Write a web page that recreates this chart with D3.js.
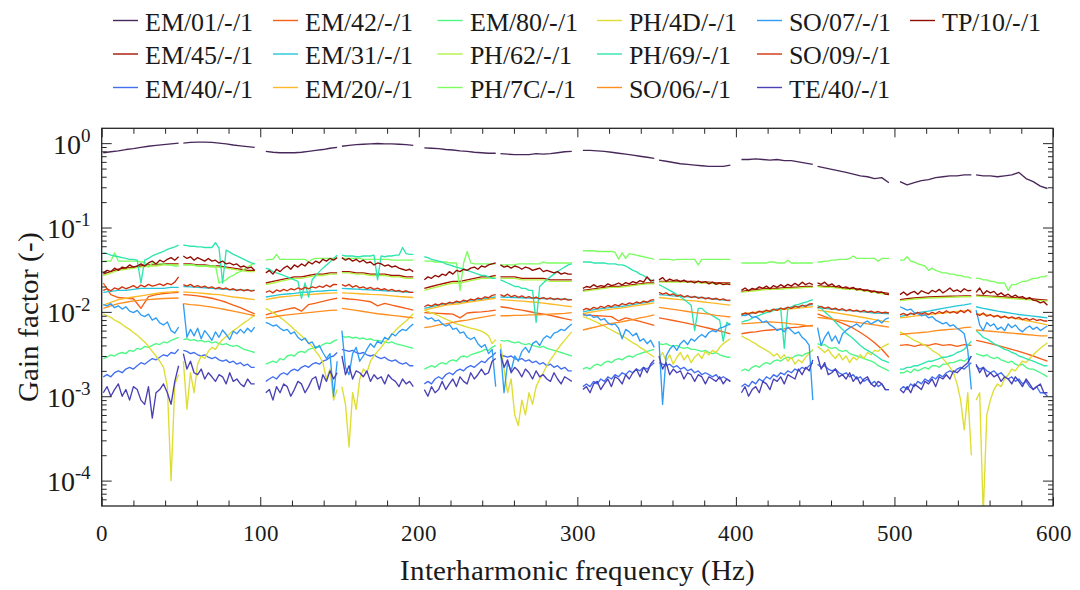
<!DOCTYPE html>
<html><head><meta charset="utf-8">
<script src="https://cdn.jsdelivr.net/npm/d3@7"></script>
<style>
@font-face{font-family:"RefSerif";src:local("Liberation Serif"),local("LiberationSerif"),local("LiberationSerif-Regular"),local("Tinos"),local("Tinos-Regular"),local("DejaVu Serif"),local("DejaVuSerif"),local("Times New Roman"),local("TimesNewRomanPSMT"),local("Nimbus Roman"),local("NimbusRoman-Regular"),local("FreeSerif"),local("Noto Serif"),local("NotoSerif-Regular");}
body{margin:0;background:#fff}
svg{display:block}
svg text{fill:#1a1a1a}
</style>
</head><body>
<svg id="c" width="1080" height="590"></svg>
<script>
// ---------------- DATA ----------------
const freqHz = [
 [1,5.75,10.5,15.25,20,24.75,29.5,34.25,39,43.75,48.5],
 [51.5,56,60.5,65,69.5,74,78.5,83,87.5,92,96.5],
 [103.5,108,112.5,117,121.5,126,130.5,135,139.5,144,148.5],
 [151.5,156,160.5,165,169.5,174,178.5,183,187.5,192,196.5],
 [203.5,208,212.5,217,221.5,226,230.5,235,239.5,244,248.5],
 [251.5,256,260.5,265,269.5,274,278.5,283,287.5,292,296.5],
 [303.5,308,312.5,317,321.5,326,330.5,335,339.5,344,348.5],
 [351.5,356,360.5,365,369.5,374,378.5,383,387.5,392,396.5],
 [403.5,408,412.5,417,421.5,426,430.5,435,439.5,444,448.5],
 [451.5,456,460.5,465,469.5,474,478.5,483,487.5,492,496.5],
 [503.5,508,512.5,517,521.5,526,530.5,535,539.5,544,548.5],
 [551.5,556,560.5,565,569.5,574,578.5,583,587.5,592,596.5]
];
const freqHzFine = [
 [1,3.4,5.75,8.1,10.5,12.9,15.25,17.6,20,22.4,24.75,27.1,29.5,31.9,34.25,36.6,39,41.4,43.75,46.1,48.5],
 [51.5,53.75,56,58.25,60.5,62.75,65,67.25,69.5,71.75,74,76.25,78.5,80.75,83,85.25,87.5,89.75,92,94.25,96.5],
 [103.5,105.75,108,110.25,112.5,114.75,117,119.25,121.5,123.75,126,128.25,130.5,132.75,135,137.25,139.5,141.75,144,146.25,148.5],
 [151.5,153.75,156,158.25,160.5,162.75,165,167.25,169.5,171.75,174,176.25,178.5,180.75,183,185.25,187.5,189.75,192,194.25,196.5],
 [203.5,205.75,208,210.25,212.5,214.75,217,219.25,221.5,223.75,226,228.25,230.5,232.75,235,237.25,239.5,241.75,244,246.25,248.5],
 [251.5,253.75,256,258.25,260.5,262.75,265,267.25,269.5,271.75,274,276.25,278.5,280.75,283,285.25,287.5,289.75,292,294.25,296.5],
 [303.5,305.75,308,310.25,312.5,314.75,317,319.25,321.5,323.75,326,328.25,330.5,332.75,335,337.25,339.5,341.75,344,346.25,348.5],
 [351.5,353.75,356,358.25,360.5,362.75,365,367.25,369.5,371.75,374,376.25,378.5,380.75,383,385.25,387.5,389.75,392,394.25,396.5],
 [403.5,405.75,408,410.25,412.5,414.75,417,419.25,421.5,423.75,426,428.25,430.5,432.75,435,437.25,439.5,441.75,444,446.25,448.5],
 [451.5,453.75,456,458.25,460.5,462.75,465,467.25,469.5,471.75,474,476.25,478.5,480.75,483,485.25,487.5,489.75,492,494.25,496.5],
 [503.5,505.75,508,510.25,512.5,514.75,517,519.25,521.5,523.75,526,528.25,530.5,532.75,535,537.25,539.5,541.75,544,546.25,548.5],
 [551.5,553.75,556,558.25,560.5,562.75,565,567.25,569.5,571.75,574,576.25,578.5,580.75,583,585.25,587.5,589.75,592,594.25,596.5]
];

const gEM01 = [
 [.77,.79,.81,.84,.86,.89,.92,.94,.96,.98,1.0],
 [1.0,1.02,1.03,1.03,1.02,1.0,.98,.95,.93,.91,.89],
 [.80,.78,.77,.77,.77,.78,.80,.82,.84,.87,.89],
 [.92,.94,.96,.97,.98,.99,.98,.98,.97,.96,.94],
 [.88,.87,.86,.84,.83,.81,.80,.78,.77,.76,.76],
 [.75,.74,.73,.73,.73,.75,.74,.75,.77,.79,.80],
 [.82,.82,.81,.80,.78,.76,.74,.72,.70,.68,.66],
 [.63,.61,.59,.57,.56,.55,.54,.53,.53,.53,.55],
 [.64,.64,.65,.64,.63,.64,.62,.62,.60,.58,.56],
 [.53,.51,.49,.47,.45,.43,.41,.40,.38,.39,.34],
 [.35,.32,.34,.36,.37,.39,.40,.41,.41,.42,.42],
 [.42,.41,.41,.40,.41,.42,.45,.38,.35,.31,.29]
];
const gEM45 = [
 [.028,.030,.032,.033,.034,.035,.036,.036,.037,.037,.037],
 [.037,.037,.036,.036,.035,.035,.034,.033,.032,.031,.031],
 [.022,.023,.024,.025,.026,.026,.027,.028,.028,.029,.029],
 [.030,.030,.029,.029,.028,.028,.028,.027,.027,.026,.026],
 [.019,.020,.021,.022,.023,.023,.024,.025,.026,.026,.027],
 [.026,.026,.026,.025,.025,.025,.025,.024,.024,.024,.024],
 [.018,.0185,.019,.0195,.020,.020,.0205,.021,.0215,.022,.022],
 [.023,.023,.023,.023,.023,.023,.0225,.0225,.022,.022,.022],
 [.0175,.018,.0183,.0187,.019,.019,.0193,.0195,.0197,.020,.020],
 [.0205,.020,.020,.0195,.019,.019,.0185,.018,.0175,.017,.0165],
 [.014,.0143,.0146,.0148,.015,.0151,.0152,.0153,.0154,.0155,.0155],
 [.0158,.0156,.0154,.0152,.015,.0148,.0146,.0144,.0142,.014,.0138]
];
const gEM40 = [
 [.0017,.0018,.0017,.0019,.0020,.0019,.0021,.0022,.0021,.0023,.0025,.0024,.0026,.0028,.0027,.0029,.0031,.0030,.0033,.0032,.0036],
 [.0035,.0034,.0032,.0033,.0031,.0030,.0031,.0029,.0028,.0029,.0027,.0026,.0027,.0025,.0026,.0024,.0025,.0023,.0024,.0022,.0022],
 [.0015,.0016,.0017,.0016,.0018,.0019,.0018,.0020,.0021,.0020,.0022,.0023,.0022,.0024,.0025,.0024,.0026,.0027,.0029,.0030,.0033],
 [.0036,.0035,.0034,.0035,.0033,.0032,.0033,.0031,.0030,.0031,.0029,.0028,.0029,.0027,.0026,.0027,.0025,.0024,.0025,.0023,.0023],
 [.0014,.0015,.0014,.0016,.0017,.0016,.0018,.0019,.0018,.0020,.0021,.0020,.0022,.0023,.0022,.0024,.0026,.0025,.0028,.0030,.0033],
 [.0031,.0030,.0029,.0030,.0028,.0027,.0028,.0026,.0027,.0025,.0026,.0024,.0025,.0023,.0024,.0022,.0023,.0021,.0022,.0020,.0020],
 [.0013,.0014,.0013,.0015,.0014,.0016,.0015,.0017,.0016,.0018,.0017,.0019,.0018,.0020,.0019,.0021,.0020,.0022,.0021,.0023,.0025],
 [.0025,.0024,.0023,.0024,.0022,.0023,.0021,.0022,.0020,.0021,.0019,.0020,.0018,.0019,.0018,.0017,.0018,.0016,.0017,.0016,.0015],
 [.0013,.0014,.0013,.0015,.0014,.0016,.0015,.0017,.0016,.0018,.0017,.0019,.0018,.0020,.0019,.0021,.0020,.0022,.0021,.0023,.0025],
 [.0024,.0022,.0023,.0021,.0020,.0021,.0019,.0018,.0019,.0017,.0018,.0016,.0017,.0015,.0016,.0014,.0015,.0013,.0014,.0012,.0012],
 [.0012,.0013,.0012,.0014,.0013,.0015,.0014,.0016,.0015,.0017,.0016,.0018,.0017,.0019,.0020,.0019,.0021,.0022,.0021,.0023,.0025],
 [.0023,.0021,.0022,.0020,.0019,.0020,.0018,.0019,.0017,.0016,.0017,.0015,.0016,.0014,.0015,.0013,.0012,.0013,.0011,.0011,.0010]
];
const gEM42 = [
 [.022,.016,.0148,.0145,.0143,.011,.0152,.016,.0165,.0168,.017],
 [.016,.0158,.0155,.015,.0145,.0138,.013,.012,.0112,.0103,.0095],
 [.0092,.0098,.0103,.0108,.0112,.0102,.0122,.0127,.0133,.014,.0145],
 [.0145,.0142,.014,.0136,.0132,.0118,.0126,.012,.0115,.011,.0105],
 [.0098,.0097,.0096,.0095,.0094,.0085,.0097,.0099,.010,.0102,.0105],
 [.0115,.0112,.0108,.0105,.0101,.0097,.0094,.0091,.0087,.0083,.008],
 [.0092,.0091,.009,.0089,.0088,.0078,.0085,.0081,.0077,.0073,.0069],
 [.0085,.0082,.0079,.0076,.0073,.007,.0067,.0064,.0061,.0058,.0055],
 [.0055,.0057,.0058,.006,.0061,.0062,.0063,.0065,.0066,.0068,.0069],
 [.0095,.0088,.0082,.0076,.007,.0064,.0057,.005,.0043,.0036,.0029],
 [.004,.0041,.0039,.0041,.004,.0042,.004,.0041,.0039,.0041,.004],
 [.0046,.0044,.0042,.004,.0038,.0036,.0034,.0032,.003,.0028,.0026]
];
const gEM31 = [
 [.017,.0175,.018,.018,.0185,.019,.019,.019,.019,.0195,.0195],
 [.020,.0198,.0195,.0193,.019,.0188,.0185,.0183,.0182,.018,.018],
 [.015,.0155,.016,.0163,.0166,.017,.0172,.0175,.0177,.018,.018],
 [.019,.0188,.0186,.0184,.0182,.018,.0178,.0176,.0174,.0172,.017],
 [.011,.0115,.012,.0125,.0128,.013,.0135,.0138,.0142,.0146,.015],
 [.015,.0149,.0148,.0147,.0146,.0145,.0144,.0143,.0142,.0141,.014],
 [.010,.0104,.0108,.011,.0113,.0115,.0118,.0122,.0126,.013,.0135],
 [.016,.0158,.0155,.0153,.0151,.015,.0147,.0144,.0141,.0138,.0135],
 [.009,.0094,.0098,.0101,.0104,.0108,.011,.0113,.0116,.0119,.0122],
 [.0112,.011,.0108,.0106,.0104,.0103,.0101,.0099,.0097,.0096,.0095],
 [.0088,.0092,.0096,.0099,.0102,.0106,.011,.0114,.0118,.0121,.0125],
 [.0115,.011,.0106,.0102,.0099,.0096,.0093,.0091,.0089,.0087,.0085]
];
const gEM20 = [
 [.012,.013,.014,.0145,.015,.0155,.016,.0165,.017,.0172,.0175],
 [.0172,.017,.0168,.0165,.0162,.016,.0155,.015,.0147,.0143,.014],
 [.014,.0145,.015,.0153,.0156,.0158,.016,.0163,.0165,.0167,.0168],
 [.0168,.0167,.0165,.0163,.0161,.016,.0158,.0155,.0152,.015,.0148],
 [.0105,.011,.0115,.012,.0123,.0125,.013,.0133,.0137,.0141,.0145],
 [.014,.0138,.0136,.0134,.0132,.013,.0127,.0124,.0121,.0118,.0115],
 [.0095,.0099,.0102,.0105,.0108,.011,.0113,.0117,.012,.0124,.0128],
 [.0148,.0145,.0142,.014,.0137,.0135,.0132,.0129,.0126,.0123,.012],
 [.0095,.0097,.0099,.0101,.0103,.0105,.0107,.0109,.0111,.0113,.0115],
 [.0105,.0102,.0099,.0096,.0093,.009,.0087,.0084,.0081,.0078,.0076],
 [.0085,.0087,.0089,.0091,.0093,.0095,.0097,.0099,.0101,.0103,.0105],
 [.0095,.0093,.0091,.0089,.0087,.0085,.0082,.0079,.0076,.0073,.007]
];
const gEM80 = [
 [.0028,.0029,.0031,.003,.0032,.0033,.0032,.0035,.0034,.0037,.0036,.0039,.0038,.004,.0042,.0041,.0044,.0043,.0046,.0048,.005],
 [.0047,.0048,.0046,.0047,.0045,.0046,.0044,.0045,.0043,.0044,.0042,.0041,.0042,.004,.0039,.004,.0038,.0036,.0035,.0034,.0033],
 [.0024,.0025,.0026,.0025,.0028,.0027,.003,.0031,.003,.0033,.0034,.0033,.0036,.0037,.0039,.0038,.0041,.0043,.0042,.0045,.0047],
 [.0052,.005,.0051,.0049,.005,.0048,.0049,.0047,.0048,.0046,.0046,.0045,.0044,.0043,.0044,.0042,.0041,.004,.0039,.0038,.0037],
 [.0021,.0022,.0023,.0022,.0024,.0025,.0024,.0026,.0027,.0026,.0029,.003,.0029,.0031,.0032,.0033,.0034,.0036,.0035,.0038,.004],
 [.0046,.0045,.0046,.0044,.0043,.0044,.0042,.0041,.0042,.004,.0039,.0038,.0039,.0037,.0036,.0035,.0034,.0033,.0032,.0031,.003],
 [.0021,.0022,.0021,.0023,.0024,.0023,.0025,.0026,.0025,.0027,.0028,.0027,.0029,.003,.0029,.0031,.0032,.0033,.0034,.0035,.0036],
 [.0042,.0041,.0042,.004,.0039,.004,.0038,.0037,.0038,.0036,.0036,.0035,.0034,.0035,.0033,.0032,.0033,.0031,.003,.0029,.0029],
 [.002,.0021,.002,.0022,.0023,.0022,.0024,.0025,.0024,.0026,.0027,.0026,.0028,.0029,.0028,.003,.0031,.003,.0032,.0033,.0035],
 [.0042,.004,.0041,.0038,.0037,.0038,.0035,.0034,.0035,.0032,.0031,.003,.0029,.0028,.0027,.0026,.0025,.0023,.0022,.0021,.002],
 [.0019,.0019,.002,.0019,.0021,.002,.0021,.0022,.0021,.0023,.0023,.0022,.0024,.0024,.0025,.0025,.0026,.0027,.0026,.0028,.003],
 [.0032,.0031,.003,.0031,.0029,.0028,.0029,.0027,.0026,.0025,.0026,.0024,.0023,.0024,.0022,.0021,.0021,.002,.0019,.0018,.0017]
];
const gPH62 = [
 [.027,.029,.031,.032,.033,.034,.035,.035,.036,.036,.036],
 [.036,.036,.035,.035,.034,.034,.033,.032,.031,.030,.030],
 [.021,.022,.023,.024,.025,.025,.026,.027,.027,.028,.028],
 [.029,.029,.028,.028,.027,.027,.027,.026,.026,.025,.025],
 [.018,.019,.020,.021,.022,.022,.023,.024,.025,.025,.026],
 [.025,.025,.025,.024,.024,.024,.024,.023,.023,.023,.023],
 [.0175,.018,.0185,.019,.0195,.0195,.020,.0205,.021,.0215,.0215],
 [.0225,.0225,.0225,.0225,.0225,.0225,.022,.022,.0215,.0215,.0215],
 [.017,.0175,.0178,.0182,.0185,.0185,.0188,.019,.0192,.0195,.0195],
 [.020,.0195,.0195,.019,.0185,.0185,.018,.0175,.017,.0165,.016],
 [.0136,.0139,.0142,.0144,.0146,.0147,.0148,.0149,.015,.0151,.0151],
 [.0154,.0152,.015,.0148,.0146,.0144,.0142,.014,.0138,.0136,.0134]
];
const gPH7C = [
 [.040,.040,.040,.050,.040,.040,.040,.040,.040,.040,.039,.039,.034,.038,.037,.037,.037,.036,.036,.035,.035],
 [.036,.036,.036,.036,.035,.035,.035,.035,.035,.035,.022,.023,.024,.026,.027,.029,.030,.032,.034,.036,.038],
 [.041,.042,.042,.048,.042,.042,.042,.042,.042,.042,.042,.042,.039,.042,.043,.043,.043,.043,.043,.043,.043],
 [.043,.043,.043,.043,.043,.043,.042,.042,.042,.042,.042,.042,.042,.042,.041,.041,.041,.041,.041,.041,.041],
 [.040,.040,.040,.039,.039,.039,.039,.038,.038,.038,.018,.038,.052,.038,.037,.037,.037,.037,.037,.037,.037],
 [.036,.036,.036,.036,.036,.037,.037,.037,.037,.037,.037,.037,.039,.038,.038,.038,.038,.038,.038,.038,.038],
 [.053,.053,.053,.053,.052,.052,.052,.052,.052,.051,.042,.050,.043,.049,.048,.047,.046,.045,.044,.043,.042],
 [.042,.042,.042,.042,.041,.042,.042,.042,.042,.042,.042,.036,.042,.042,.042,.042,.042,.042,.042,.042,.042],
 [.038,.038,.038,.038,.038,.038,.038,.038,.039,.039,.038,.038,.038,.041,.038,.038,.038,.038,.038,.038,.038],
 [.039,.039,.040,.040,.041,.041,.042,.042,.042,.043,.046,.043,.043,.043,.043,.043,.043,.040,.043,.043,.043],
 [.041,.041,.045,.040,.039,.037,.036,.035,.031,.033,.031,.030,.029,.029,.028,.028,.027,.027,.026,.026,.025],
 [.025,.025,.024,.024,.023,.023,.022,.022,.022,.018,.021,.021,.022,.023,.023,.024,.025,.025,.026,.026,.027]
];
const gPH4D = [
 [.0095,.009,.0086,.008,.0076,.0071,.0066,.0062,.0057,.0053,.0048,.0044,.0039,.0034,.003,.0026,.0022,.0013,.0001,.0014,.0018],
 [.0026,.0007,.0019,.0011,.0024,.003,.0028,.0034,.0038,.0036,.0042,.0047,.0051,.0055,.006,.0064,.0069,.0074,.0079,.0085,.0092],
 [.011,.0104,.0098,.0092,.0086,.008,.0074,.0068,.0062,.0057,.0052,.0047,.0043,.0039,.0034,.003,.0025,.0016,.0021,.0009,.0012],
 [.0013,.0008,.00025,.0011,.0007,.0016,.0021,.0019,.0026,.003,.0034,.0038,.0043,.0048,.0054,.006,.0066,.0072,.0078,.0086,.0095],
 [.0105,.0101,.0097,.0094,.009,.0086,.0082,.0079,.0075,.0072,.007,.0068,.0066,.0064,.0063,.0061,.0059,.0056,.0052,.0042,.0047],
 [.0042,.0021,.0011,.0016,.0006,.00045,.0009,.0006,.0011,.0008,.0013,.0016,.0019,.0023,.0027,.0031,.0036,.0041,.0046,.0052,.0058],
 [.0088,.0085,.0082,.0078,.0075,.0071,.0068,.0064,.0061,.0058,.0055,.0052,.0049,.0046,.0043,.0041,.0038,.0036,.0033,.0031,.0029],
 [.0028,.0033,.0026,.0031,.0024,.0029,.0033,.0027,.0031,.0025,.0029,.0032,.0028,.0034,.0031,.0035,.0033,.0038,.0042,.0045,.0048],
 [.0052,.0049,.0047,.0044,.0042,.0039,.0037,.0035,.0033,.003,.0032,.0028,.0031,.0026,.0029,.0024,.0027,.0025,.0029,.0032,.0036],
 [.0039,.0036,.0033,.0036,.0031,.0028,.0032,.0027,.003,.0025,.0029,.0027,.0031,.0028,.0033,.0031,.0035,.0034,.0038,.004,.0042],
 [.0058,.0055,.0052,.0049,.0046,.0044,.0042,.004,.0038,.0035,.0033,.0031,.0028,.0025,.0022,.0019,.0014,.0009,.0004,.0011,.0002],
 [.0009,.0011,.00004,.0006,.0009,.0012,.0014,.0013,.0016,.0018,.0021,.002,.0023,.0026,.0025,.0028,.0031,.0034,.0037,.004,.0043]
];
const gPH69 = [
 [.050,.049,.047,.046,.045,.044,.043,.042,.042,.041,.022,.041,.043,.046,.048,.050,.052,.055,.057,.059,.062],
 [.062,.061,.060,.060,.059,.059,.058,.058,.058,.066,.057,.022,.054,.051,.048,.046,.044,.042,.040,.038,.037],
 [.033,.032,.030,.029,.028,.027,.026,.025,.024,.023,.0145,.022,.015,.024,.027,.030,.033,.036,.039,.043,.047],
 [.047,.046,.046,.046,.045,.045,.046,.046,.046,.047,.024,.046,.045,.046,.046,.047,.047,.058,.049,.048,.048],
 [.045,.044,.042,.041,.040,.039,.037,.036,.035,.034,.033,.032,.031,.030,.029,.028,.027,.027,.026,.025,.025],
 [.024,.023,.022,.021,.020,.020,.019,.019,.018,.018,.0075,.020,.022,.024,.026,.028,.030,.032,.034,.036,.037],
 [.039,.039,.039,.038,.038,.038,.038,.037,.037,.037,.036,.036,.035,.033,.031,.030,.028,.027,.025,.024,.023],
 [.021,.020,.019,.018,.017,.016,.015,.014,.013,.012,.006,.011,.011,.010,.0095,.009,.0085,.008,.0045,.0075,.007],
 [.0075,.0078,.008,.0084,.0088,.0091,.0095,.0098,.010,.0104,.0108,.011,.0037,.011,.0115,.012,.0123,.0127,.013,.0135,.014],
 [.012,.011,.010,.0092,.0084,.0076,.0068,.0062,.0056,.0052,.0048,.0044,.004,.0037,.0035,.0033,.0031,.0029,.0027,.0026,.0025],
 [.0021,.0021,.0022,.0022,.0023,.0023,.0024,.0025,.0026,.0026,.0027,.0028,.0029,.0029,.003,.0031,.0033,.0034,.0036,.004,.0045],
 [.006,.0055,.005,.0048,.0045,.0042,.004,.0038,.0036,.0035,.0033,.0032,.003,.0029,.0028,.0027,.0026,.0025,.0024,.0023,.0023]
];
const gSO06 = [
 [.011,.0118,.0125,.013,.0135,.0138,.014,.0142,.0144,.0145,.0146],
 [.0125,.0122,.012,.0117,.0114,.011,.0106,.0102,.0098,.0094,.009],
 [.0085,.0087,.009,.0092,.0094,.0096,.0098,.010,.0102,.0104,.0105],
 [.011,.0107,.0104,.0101,.0098,.0095,.0093,.0091,.0089,.0087,.0085],
 [.0065,.0067,.007,.0072,.0075,.0078,.008,.0083,.0086,.0089,.0092],
 [.009,.009,.0091,.0091,.0092,.0092,.0093,.0094,.0095,.0096,.0098],
 [.0061,.0064,.0067,.007,.0073,.0075,.0078,.0081,.0085,.0088,.0092],
 [.0113,.011,.0107,.0104,.0101,.0098,.0096,.0094,.0091,.0089,.0087],
 [.0072,.0073,.0074,.0075,.0076,.0075,.0074,.0072,.0071,.0069,.0068],
 [.0086,.0084,.0082,.008,.0078,.0076,.0074,.0072,.007,.0068,.0066],
 [.0054,.0055,.0056,.0057,.0058,.006,.0061,.0062,.0063,.0065,.0066],
 [.0061,.006,.0059,.0058,.0057,.0056,.0055,.0054,.0053,.0052,.0052]
];
const gSO07 = [
 [.0122,.0118,.0125,.0112,.0118,.0108,.0115,.0102,.0098,.0104,.0092,.0088,.0094,.0080,.0085,.0074,.0070,.0076,.0060,.0056,.0066],
 [.0125,.0050,.0062,.0052,.0064,.0048,.0060,.0053,.0046,.0058,.0050,.0061,.0054,.0047,.0059,.0055,.0062,.0056,.0064,.0058,.0066],
 [.0075,.0072,.0068,.0070,.0064,.0060,.0062,.0055,.0058,.0050,.0046,.0049,.0042,.0044,.0037,.0040,.0033,.0028,.0032,.0010,.0026],
 [.0060,.0022,.0018,.0032,.0038,.0026,.0030,.0036,.0042,.0038,.0045,.0042,.0050,.0047,.0055,.0052,.0058,.0062,.0060,.0066,.0072],
 [.0088,.0082,.0085,.0078,.0080,.0072,.0068,.0071,.0062,.0064,.0056,.0058,.0050,.0047,.0050,.0042,.0038,.0041,.0032,.0036,.0013],
 [.0036,.0011,.0025,.0020,.0030,.0026,.0034,.0038,.0033,.0042,.0045,.0040,.0048,.0052,.0049,.0056,.0058,.0062,.0060,.0066,.0072],
 [.0095,.0090,.0093,.0086,.0088,.0080,.0083,.0074,.0070,.0072,.0064,.0048,.0062,.0058,.0052,.0056,.0045,.0048,.0042,.0046,.0038],
 [.0045,.0008,.0030,.0036,.0040,.0035,.0042,.0046,.0041,.0048,.0045,.0050,.0054,.0050,.0057,.0060,.0058,.0064,.0066,.0069,.0072],
 [.0095,.0090,.0094,.0086,.0088,.0082,.0075,.0078,.0070,.0066,.0060,.0063,.0058,.0066,.0060,.0055,.0058,.0050,.0046,.0040,.0009],
 [.0065,.0040,.0050,.0058,.0045,.0052,.0042,.0055,.0060,.0065,.0068,.0072,.0066,.0074,.0078,.0072,.0076,.0080,.0074,.0082,.0085],
 [.0115,.0110,.0105,.0108,.0098,.0095,.0090,.0093,.0085,.0088,.0080,.0076,.0072,.0075,.0068,.0070,.0064,.0060,.0055,.0035,.0012],
 [.0105,.0070,.0060,.0075,.0068,.0072,.0062,.0066,.0060,.0072,.0065,.0070,.0062,.0058,.0064,.0068,.0062,.0066,.0060,.0064,.0068]
];
const gSO09 = [
 [.018,.0188,.0178,.0192,.0185,.0198,.0188,.0195,.0205,.0192,.0208,.0198,.0212,.0202,.0208,.0215,.0205,.0218,.021,.0225,.026],
 [.021,.0202,.0212,.0198,.0205,.0195,.0202,.0192,.0198,.0188,.0195,.0186,.0192,.0182,.0188,.0179,.0185,.0178,.0184,.0176,.018],
 [.017,.0178,.0168,.0182,.0175,.0185,.0178,.0188,.0182,.0192,.0185,.0195,.0188,.0198,.0192,.0202,.0195,.0208,.0198,.0212,.021],
 [.021,.0202,.0212,.0196,.0205,.0192,.0198,.0188,.0195,.0185,.0191,.0182,.0188,.0179,.0185,.0176,.018,.0172,.0178,.017,.017],
 [.0115,.0121,.0117,.0124,.012,.0127,.0123,.013,.0127,.0134,.013,.0138,.0133,.0142,.0138,.0146,.0142,.0151,.0147,.0157,.016],
 [.016,.0153,.0162,.0151,.0157,.0149,.0155,.0147,.0152,.0145,.015,.0143,.0148,.0142,.0147,.014,.0145,.0139,.0144,.0138,.014],
 [.0105,.011,.0106,.0113,.0109,.0116,.0112,.0119,.0115,.0122,.0118,.0125,.0121,.0128,.0124,.0131,.0127,.0134,.013,.0138,.014],
 [.017,.0162,.0168,.0158,.0163,.0154,.0159,.015,.0156,.0148,.0153,.0145,.015,.0143,.0147,.0141,.0145,.0139,.0143,.0137,.0138],
 [.0092,.0097,.0094,.0099,.0096,.0102,.0099,.0105,.0101,.0108,.0104,.0111,.0107,.0114,.011,.0117,.0113,.012,.0116,.0124,.0125],
 [.0112,.0116,.011,.0114,.0107,.0111,.0105,.0109,.0103,.0107,.0102,.0105,.010,.0104,.0099,.0102,.0098,.0101,.0097,.0099,.0097],
 [.0092,.0096,.0091,.0097,.0093,.0099,.0094,.0098,.0093,.0099,.0095,.0101,.0096,.0103,.0097,.0101,.0096,.0104,.0098,.0106,.0098],
 [.0095,.0091,.0097,.0089,.0093,.0087,.0091,.0085,.0089,.0084,.0087,.0083,.0086,.0081,.0084,.008,.0083,.0079,.0081,.0078,.0078]
];
const gTE40 = [
 [.0011,.0013,.0010,.0012,.0014,.0010,.0012,.0009,.0013,.0012,.0009,.0008,.0013,.00055,.0011,.0012,.0014,.0011,.0008,.0015,.0023],
 [.0032,.0021,.0026,.0019,.0018,.0021,.0016,.0019,.0017,.0015,.0018,.0017,.0014,.0019,.0015,.0016,.0014,.0013,.0016,.0014,.0014],
 [.0011,.0012,.0009,.0013,.0011,.0014,.0013,.0010,.0012,.0015,.0014,.0011,.0013,.0016,.0017,.0012,.0018,.0015,.0020,.0016,.0019],
 [.0030,.0018,.0023,.0016,.0020,.0019,.0017,.0020,.0015,.0018,.0016,.0017,.0014,.0018,.0016,.0015,.0013,.0016,.0014,.0015,.0013],
 [.0012,.0010,.0013,.0011,.0012,.0015,.0012,.0014,.0016,.0013,.0017,.0015,.0014,.0019,.0016,.0018,.0021,.0018,.0019,.0026,.0028],
 [.0032,.0022,.0027,.0019,.0022,.0020,.0017,.0021,.0019,.0016,.0020,.0017,.0018,.0016,.0015,.0019,.0016,.0014,.0017,.0016,.0015],
 [.0012,.0013,.0011,.0014,.0015,.0012,.0014,.0016,.0013,.0017,.0016,.0014,.0018,.0016,.0019,.0021,.0017,.0022,.0019,.0024,.0027],
 [.0030,.0021,.0025,.0018,.0021,.0019,.0020,.0016,.0019,.0018,.0015,.0018,.0017,.0014,.0017,.0016,.0015,.0017,.0014,.0016,.0015],
 [.0011,.0013,.0010,.0012,.0013,.0011,.0015,.0014,.0012,.0016,.0015,.0017,.0014,.0018,.0017,.0016,.0021,.0018,.0022,.0020,.0027],
 [.0030,.0021,.0025,.0018,.0019,.0021,.0017,.0018,.0016,.0019,.0015,.0017,.0014,.0016,.0017,.0014,.0013,.0015,.0014,.0012,.0012],
 [.0012,.0011,.0013,.0011,.0014,.0013,.0012,.0015,.0014,.0016,.0013,.0017,.0016,.0018,.0016,.0020,.0019,.0021,.0023,.0025,.0030],
 [.0024,.0019,.0022,.0017,.0019,.0017,.0018,.0015,.0017,.0016,.0014,.0017,.0015,.0013,.0016,.0014,.0012,.0013,.0014,.0011,.0011]
];
const gTP10 = [
 [.029,.031,.030,.033,.031,.034,.033,.036,.034,.035,.037,.035,.038,.040,.037,.041,.039,.042,.044,.041,.045],
 [.046,.043,.045,.041,.044,.042,.040,.043,.040,.041,.038,.040,.037,.038,.036,.037,.034,.035,.033,.034,.031],
 [.029,.031,.028,.032,.030,.033,.035,.032,.036,.034,.037,.035,.039,.037,.040,.038,.042,.040,.043,.041,.044],
 [.044,.041,.043,.040,.042,.039,.041,.038,.039,.036,.038,.037,.035,.036,.034,.035,.033,.032,.031,.032,.030],
 [.024,.026,.025,.027,.026,.028,.027,.030,.028,.031,.030,.032,.031,.033,.034,.032,.035,.034,.036,.037,.038],
 [.036,.034,.035,.033,.035,.034,.032,.034,.033,.031,.032,.033,.030,.031,.030,.029,.030,.028,.029,.028,.028],
 [.019,.020,.0195,.021,.0198,.0205,.020,.0215,.0205,.021,.022,.0208,.0222,.0215,.0228,.022,.0235,.0225,.026,.0232,.024],
 [.024,.0255,.023,.0245,.0235,.024,.0228,.0238,.0225,.023,.022,.0232,.0222,.0228,.0215,.0225,.0212,.022,.021,.0215,.021],
 [.018,.0192,.0178,.019,.0185,.0198,.019,.0202,.0188,.0205,.0195,.021,.0198,.0212,.0202,.0218,.0205,.0225,.021,.022,.021],
 [.022,.0212,.0225,.0205,.0215,.0198,.0205,.0192,.0198,.0188,.0195,.0182,.0188,.0178,.0182,.0172,.0176,.0168,.0172,.0162,.016],
 [.016,.0172,.0158,.0168,.0175,.0162,.0178,.017,.0165,.018,.0172,.0185,.0168,.0178,.0192,.0175,.0182,.0172,.0188,.0178,.018],
 [.017,.0192,.0162,.0178,.0168,.0175,.0158,.0168,.0155,.0162,.015,.0158,.0148,.0152,.0142,.0148,.0138,.0135,.0128,.0132,.012]
];

// plotting / legend order (column-major legend)
const seriesNames = ["EM/01/-/1","EM/45/-/1","EM/40/-/1","EM/42/-/1","EM/31/-/1","EM/20/-/1",
  "EM/80/-/1","PH/62/-/1","PH/7C/-/1","PH/4D/-/1","PH/69/-/1","SO/06/-/1",
  "SO/07/-/1","SO/09/-/1","TE/40/-/1","TP/10/-/1"];
const seriesValues = [gEM01,gEM45,gEM40,gEM42,gEM31,gEM20,gEM80,gPH62,gPH7C,gPH4D,gPH69,gSO06,gSO07,gSO09,gTE40,gTP10];
const xTickValues = [0,100,200,300,400,500,600];
const yTickValues = [1e-4,1e-3,1e-2,1e-1,1];

// ---------------- STYLE ----------------
const turboIndex = [0,14,2,12,4,10,6,8,7,9,5,11,3,13,1,15];
const colors = turboIndex.map(k => d3.interpolateTurbo(k/15));
colors[0] = "#48285a";
const FONT = 'RefSerif,"Liberation Serif","DejaVu Serif","Times New Roman",serif';

const M = {l:101.7, r:1053, t:128.3, b:506};
const svg = d3.select("#c");
const x = d3.scaleLinear().domain([0,600]).range([M.l, M.r]);
const y = d3.scaleLog().domain([5e-5,1.5]).range([M.b, M.t]);
const axisCol = "#262626";

svg.append("defs").append("clipPath").attr("id","pc")
  .append("rect").attr("x",M.l).attr("y",M.t).attr("width",M.r-M.l).attr("height",M.b-M.t);

const line = d3.line().x(d=>x(d[0])).y(d=>y(d[1]));
const gLines = svg.append("g").attr("clip-path","url(#pc)");
seriesValues.forEach((vals, si) => {
  vals.forEach((seg, k) => {
    const grid = seg.length > 11 ? freqHzFine[k] : freqHz[k];
    const pts = grid.map((f,i)=>[f, seg[i]]);
    gLines.append("path").attr("d", line(pts))
      .attr("fill","none").attr("stroke", colors[si])
      .attr("stroke-width",1.35).attr("stroke-linejoin","round");
  });
});

function styleAxis(g){
  g.attr("font-family",FONT);
  g.select(".domain").remove();
  g.selectAll(".tick line").attr("stroke",axisCol).attr("stroke-width",1);
}
const xMinor = d3.range(0,601,20).filter(v=>v%100!==0);
const yMinor = [];
for (let e=-5;e<=0;e++) for (let m=2;m<=9;m++){ const v=m*Math.pow(10,e); if (v>5.01e-5 && v<1.5) yMinor.push(v); }

svg.append("g").attr("transform",`translate(0,${M.b})`)
  .call(d3.axisBottom(x).tickValues(xTickValues).tickSize(-9).tickPadding(19).tickFormat(d3.format("d")))
  .call(styleAxis)
  .call(g=>g.selectAll("text").attr("font-size",23).attr("fill","#1a1a1a"));
svg.append("g").attr("transform",`translate(0,${M.b})`)
  .call(d3.axisBottom(x).tickValues(xMinor).tickSize(-5.5).tickFormat(""))
  .call(styleAxis);
svg.append("g").attr("transform",`translate(0,${M.t})`)
  .call(d3.axisTop(x).tickValues(xTickValues).tickSize(-9).tickFormat(""))
  .call(styleAxis);
svg.append("g").attr("transform",`translate(0,${M.t})`)
  .call(d3.axisTop(x).tickValues(xMinor).tickSize(-5.5).tickFormat(""))
  .call(styleAxis);
const yAx = svg.append("g").attr("transform",`translate(${M.l},0)`)
  .call(d3.axisLeft(y).tickValues(yTickValues).tickSize(-10).tickPadding(11).tickFormat(d=>""+Math.round(Math.log10(d))))
  .call(styleAxis);
yAx.selectAll(".tick text").each(function(){
  const t = d3.select(this); const ex = t.text(); t.text("");
  t.attr("font-size",28).attr("fill","#1a1a1a").attr("dy","0.36em");
  t.append("tspan").text("10");
  t.append("tspan").attr("font-size",19).attr("dy","-0.62em").text(ex);
});
svg.append("g").attr("transform",`translate(${M.l},0)`)
  .call(d3.axisLeft(y).tickValues(yMinor).tickSize(-5).tickFormat(""))
  .call(styleAxis);
svg.append("g").attr("transform",`translate(${M.r},0)`)
  .call(d3.axisRight(y).tickValues(yTickValues).tickSize(-10).tickFormat(""))
  .call(styleAxis);
svg.append("g").attr("transform",`translate(${M.r},0)`)
  .call(d3.axisRight(y).tickValues(yMinor).tickSize(-5).tickFormat(""))
  .call(styleAxis);

svg.append("rect").attr("x",M.l).attr("y",M.t).attr("width",M.r-M.l).attr("height",M.b-M.t)
  .attr("fill","none").attr("stroke",axisCol).attr("stroke-width",1.3);

svg.append("text").attr("x",(M.l+M.r)/2).attr("y",580).attr("text-anchor","middle")
  .attr("font-family",FONT).attr("font-size",29).text("Interharmonic frequency (Hz)");
svg.append("text").attr("transform",`translate(38,${(M.t+M.b)/2}) rotate(-90)`).attr("text-anchor","middle")
  .attr("font-family",FONT).attr("font-size",29).text("Gain factor (-)");

const legX = [145,305,469.5,629,789,942];
const legY = [30.5,64,97.5];
seriesNames.forEach((nm,i)=>{
  const c = Math.floor(i/3), r = i%3;
  const tx = legX[c], ty = legY[r];
  svg.append("line").attr("x1",tx-32).attr("x2",tx-7).attr("y1",ty-10).attr("y2",ty-10)
    .attr("stroke",colors[i]).attr("stroke-width",1.4);
  svg.append("text").attr("x",tx).attr("y",ty).attr("font-family",FONT).attr("font-size",26).text(nm);
});
</script>
</body></html>
